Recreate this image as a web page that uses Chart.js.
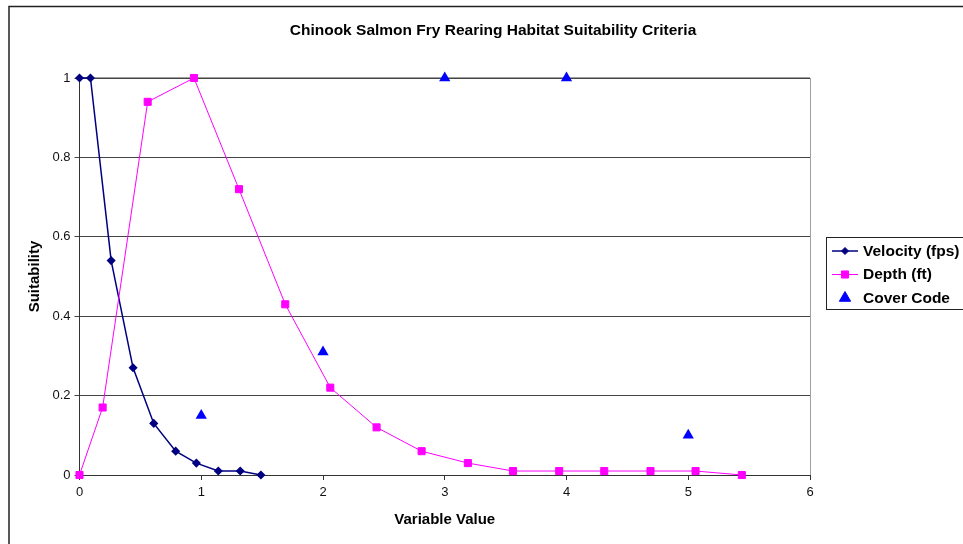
<!DOCTYPE html>
<html><head><meta charset="utf-8">
<script src="https://cdn.jsdelivr.net/npm/chart.js@4/dist/chart.umd.min.js"></script>
<style>html,body{margin:0;padding:0;background:#fff;}canvas{display:block;}</style>
</head><body>
<canvas id="c" width="963" height="544"></canvas>
<script>
const chartTitle = 'Chinook Salmon Fry Rearing Habitat Suitability Criteria';
const xAxisTitle = 'Variable Value';
const yAxisTitle = 'Suitability';
const seriesNames = ['Velocity (fps)', 'Depth (ft)', 'Cover Code'];

const velocityX = [0, 0.09, 0.26, 0.44, 0.61, 0.79, 0.96, 1.14, 1.32, 1.49];
const velocityY = [1, 1, 0.54, 0.27, 0.13, 0.06, 0.03, 0.01, 0.01, 0];

const depthX = [0, 0.19, 0.56, 0.94, 1.31, 1.69, 2.06, 2.44, 2.81, 3.19, 3.56, 3.94, 4.31, 4.69, 5.06, 5.44];
const depthY = [0, 0.17, 0.94, 1, 0.72, 0.43, 0.22, 0.12, 0.06, 0.03, 0.01, 0.01, 0.01, 0.01, 0.01, 0];

const coverX = [1, 2, 3, 4, 5];
const coverY = [0.15, 0.31, 1, 1, 0.1];

const xTicks = [0, 1, 2, 3, 4, 5, 6];
const yTicks = [0, 0.2, 0.4, 0.6, 0.8, 1];

const FONT = "'Liberation Sans', Arial, sans-serif";
const pts = (xs, ys) => xs.map((x, i) => ({x: x, y: ys[i]}));

const frame = {
  id: 'frame',
  beforeDraw(chart) {
    const ctx = chart.ctx;
    ctx.save();
    ctx.fillStyle = '#fff';
    ctx.fillRect(0, 0, chart.width, chart.height);
    ctx.strokeStyle = '#222';
    ctx.lineWidth = 1.5;
    ctx.beginPath();
    ctx.moveTo(9, chart.height);
    ctx.lineTo(9, 6.5);
    ctx.lineTo(chart.width, 6.5);
    ctx.stroke();
    ctx.restore();
  },
  beforeDatasetsDraw(chart) {
    const ctx = chart.ctx, a = chart.chartArea;
    ctx.save();
    ctx.strokeStyle = '#a0a0a0';
    ctx.lineWidth = 1;
    ctx.beginPath();
    ctx.moveTo(Math.round(a.right) + 0.5, a.top);
    ctx.lineTo(Math.round(a.right) + 0.5, a.bottom);
    ctx.moveTo(a.left, Math.round(a.top) - 0.5);
    ctx.lineTo(a.right, Math.round(a.top) - 0.5);
    ctx.stroke();
    ctx.restore();
  },
  afterDraw(chart) {
    const ctx = chart.ctx;
    ctx.save();
    // title
    ctx.fillStyle = '#000';
    ctx.font = 'bold 15.5px ' + FONT;
    ctx.textAlign = 'center';
    ctx.textBaseline = 'middle';
    ctx.fillText(chartTitle, 493, 31);
    // legend box
    ctx.strokeStyle = '#222';
    ctx.lineWidth = 1;
    ctx.strokeRect(826.5, 237.5, 200, 72);
    ctx.font = 'bold 15.5px ' + FONT;
    ctx.textAlign = 'left';
    chart.data.datasets.forEach((ds, i) => {
      const y = 251 + i * 23.5;
      if (ds.showLine) {
        ctx.strokeStyle = ds.borderColor;
        ctx.lineWidth = ds.borderWidth;
        ctx.beginPath();
        ctx.moveTo(832, y);
        ctx.lineTo(858, y);
        ctx.stroke();
      }
      ctx.fillStyle = ds.pointBackgroundColor;
      ctx.strokeStyle = ds.pointBorderColor;
      ctx.lineWidth = 1;
      Chart.helpers.drawPoint(ctx, {pointStyle: ds.pointStyle, radius: ds.pointRadius, rotation: 0, borderWidth: 1}, 845, y);
      ctx.fillStyle = '#000';
      ctx.fillText(ds.label, 863, y + 0.5);
    });
    ctx.restore();
  }
};

new Chart(document.getElementById('c'), {
  type: 'scatter',
  data: {
    datasets: [
      {
        label: seriesNames[0], data: pts(velocityX, velocityY), showLine: true,
        borderColor: '#000080', borderWidth: 1.5, pointStyle: 'rectRot', pointRadius: 3.5,
        pointBackgroundColor: '#000080', pointBorderColor: '#000080', clip: false, order: 2
      },
      {
        label: seriesNames[1], data: pts(depthX, depthY), showLine: true,
        borderColor: '#FF00FF', borderWidth: 1, pointStyle: 'rect', pointRadius: 5,
        pointBackgroundColor: '#FF00FF', pointBorderColor: '#FF00FF', clip: false, order: 1
      },
      {
        label: seriesNames[2], data: pts(coverX, coverY), showLine: false,
        borderColor: '#0000FF', borderWidth: 0, pointStyle: 'triangle', pointRadius: 6.5,
        pointBackgroundColor: '#0000FF', pointBorderColor: '#0000FF', clip: false, order: 0
      }
    ]
  },
  options: {
    responsive: false,
    animation: false,
    layout: {padding: {left: 22, top: 78, right: 153, bottom: 11}},
    plugins: {legend: {display: false}, title: {display: false}, tooltip: {enabled: false}},
    scales: {
      x: {
        type: 'linear', min: 0, max: 6,
        afterBuildTicks: s => { s.ticks = xTicks.map(v => ({value: v})); },
        afterFit: s => { s.height = 58; },
        ticks: {font: {family: FONT, size: 13}, color: '#111', padding: 5, maxRotation: 0, callback: v => String(v)},
        grid: {drawOnChartArea: false, drawTicks: true, tickLength: 5, color: '#333'},
        border: {color: '#333', width: 1},
        title: {display: true, text: xAxisTitle, color: '#000', font: {family: FONT, size: 15, weight: 'bold'}, padding: {top: 4, bottom: 4}}
      },
      y: {
        type: 'linear', min: 0, max: 1,
        afterBuildTicks: s => { s.ticks = yTicks.map(v => ({value: v})); },
        afterFit: s => { s.width = 57.5; },
        ticks: {font: {family: FONT, size: 13}, color: '#111', padding: 4, callback: v => String(v)},
        grid: {drawTicks: true, tickLength: 5, color: '#444'},
        border: {color: '#333', width: 1},
        title: {display: true, text: yAxisTitle, color: '#000', font: {family: FONT, size: 15, weight: 'bold'}, padding: {top: 4, bottom: 4}}
      }
    }
  },
  plugins: [frame]
});
</script>
</body></html>
